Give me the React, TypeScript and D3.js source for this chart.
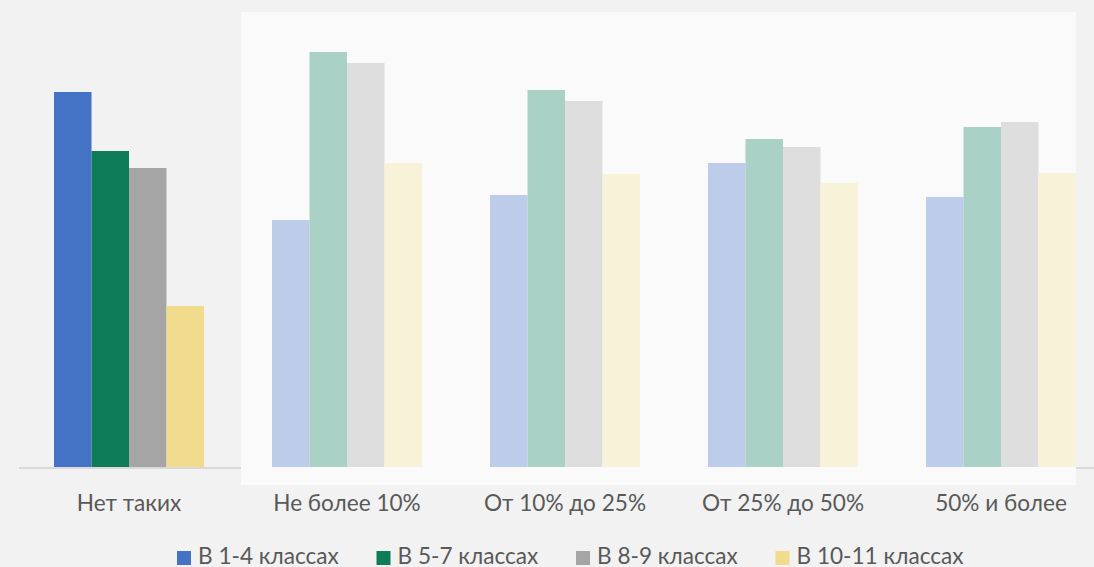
import { useEffect, useRef } from "react";
import * as d3 from "d3";

const categories = ["Нет таких", "Не более 10%", "От 10% до 25%", "От 25% до 50%", "50% и более"];
const seriesNames = ["В 1-4 классах", "В 5-7 классах", "В 8-9 классах", "В 10-11 классах"];
const seriesColors = ["#4472c4", "#0e7c58", "#a5a5a5", "#f0dc8c"];
const fadedColors = ["#bdcce9", "#a9d1c5", "#dedede", "#f8f3d8"];

// values (per category, per series)
const grade14 = [37.5, 24.7, 27.2, 30.4, 27.0];
const grade57 = [31.6, 41.5, 37.7, 32.8, 34.0];
const grade89 = [29.9, 40.4, 36.6, 32.0, 34.5];
const grade1011 = [16.1, 30.4, 29.3, 28.4, 29.4];

const W = 1094;
const H = 567;

export default function App() {
  const svgRef = useRef<SVGSVGElement | null>(null);

  useEffect(() => {
    if (!svgRef.current) return;
    const svg = d3.select(svgRef.current);
    svg.selectAll("*").remove();

    const series = [grade14, grade57, grade89, grade1011];
    const baseline = 467;

    const x = d3.scaleBand<string>().domain(categories).range([19, 1111])
      .paddingInner(0.3119).paddingOuter(0.1606);
    const sub = d3.scaleBand<number>().domain([0, 1, 2, 3]).range([0, x.bandwidth()]);
    const y = d3.scaleLinear().domain([0, 45.5]).range([baseline, 12]);

    svg.append("rect").attr("width", W).attr("height", H).attr("fill", "#f2f2f2");

    // axis line
    svg.append("line")
      .attr("x1", 19).attr("x2", W)
      .attr("y1", baseline + 1).attr("y2", baseline + 1)
      .attr("stroke", "#d9d9d9").attr("stroke-width", 2);

    // highlight panel over the faded groups
    svg.append("rect")
      .attr("x", 241).attr("y", 12)
      .attr("width", 835).attr("height", 473)
      .attr("fill", "#fafafa");

    const rows = categories.map((c, i) => ({ c, i, vals: series.map(s => s[i]) }));

    const g = svg.selectAll("g.cat").data(rows).enter().append("g")
      .attr("transform", d => `translate(${x(d.c)},0)`);

    g.selectAll("rect")
      .data(d => d.vals.map((v, k) => ({ v, k, first: d.i === 0 })))
      .enter().append("rect")
      .attr("x", d => sub(d.k)!)
      .attr("y", d => y(d.v))
      .attr("width", sub.bandwidth())
      .attr("height", d => baseline - y(d.v))
      .attr("fill", d => (d.first ? seriesColors[d.k] : fadedColors[d.k]));

    // category labels
    svg.selectAll("text.cat").data(categories).enter().append("text")
      .attr("x", d => x(d)! + x.bandwidth() / 2)
      .attr("y", 511)
      .attr("text-anchor", "middle")
      .attr("font-family", "Lato, sans-serif")
      .attr("font-size", 22.6)
      .attr("fill", "#595959")
      .text(d => d);

    // legend
    const leg = svg.selectAll("g.leg").data(seriesNames).enter().append("g")
      .attr("transform", (_d, i) => `translate(${177 + i * 199.5},0)`);
    leg.append("rect")
      .attr("x", 0).attr("y", 551)
      .attr("width", 14).attr("height", 14)
      .attr("fill", (_d, i) => seriesColors[i]);
    leg.append("text")
      .attr("x", 21).attr("y", 564)
      .attr("font-family", "Lato, sans-serif")
      .attr("font-size", 22.6)
      .attr("fill", "#595959")
      .text(d => d);
  }, []);

  return <svg ref={svgRef} width={W} height={H} style={{ display: "block", position: "absolute", left: 0, top: 0 }} />;
}
